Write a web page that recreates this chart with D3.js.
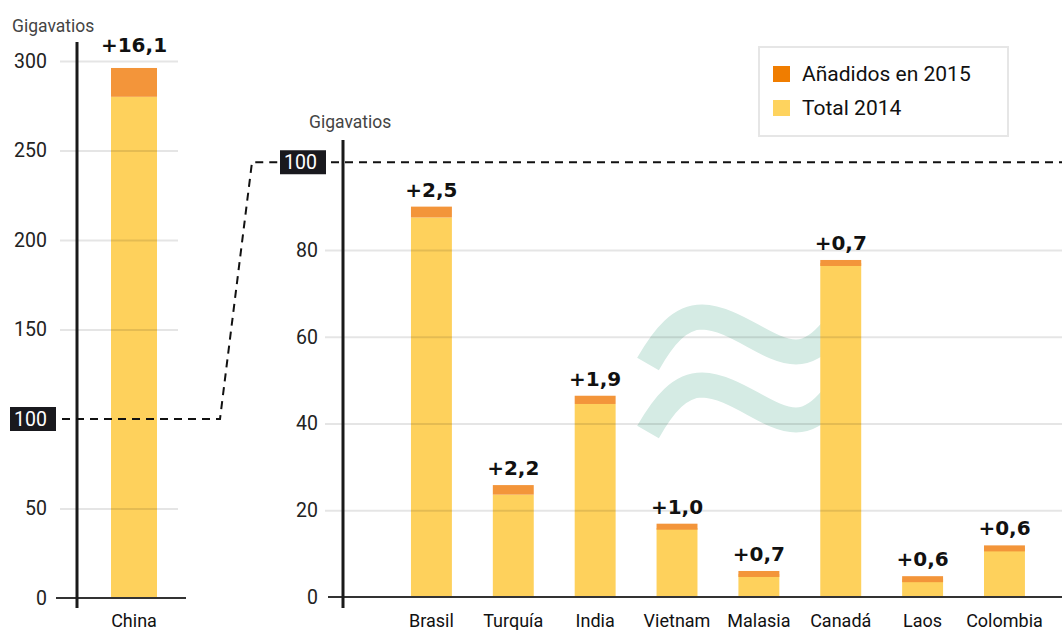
<!DOCTYPE html>
<html>
<head>
<meta charset="utf-8">
<script src="https://cdn.jsdelivr.net/npm/d3@7"></script>
<style>
  body { margin: 0; background: #fff; }
  svg { font-family: Roboto, "Noto Sans", sans-serif; display: block; }
</style>
</head>
<body>
<svg id="graph" width="1062" height="630"></svg>
<script>
(function() {
    // data
    var bigCats = ["China"];
    var bigBase = [280.0];
    var bigAdded = [16.1];

    var cats = ["Brasil", "Turquía", "India", "Vietnam", "Malasia", "Canadá", "Laos", "Colombia"];
    var base2014 = [87.5, 23.6, 44.5, 15.9, 5.3, 77.0, 4.2, 11.3];
    var added2015 = [2.5, 2.2, 1.9, 1.0, 0.7, 0.7, 0.6, 0.6];

    var bigTicks = [0, 50, 150, 200, 250, 300];
    var smallTicks = [0, 20, 40, 60, 80];
    var breakValue = 100;
    var legendLabels = ["Añadidos en 2015", "Total 2014"];

    var yellow = "#fed15c", orange = "#f3953a";
    var legendColors = ["#f07d00", "#fed35e"];
    var fmt = d => "+" + d3.format(".1f")(d).replace(".", ",");

    var svg = d3.select("#graph");

    // scales
    var yL = d3.scaleLinear().domain([0, 300]).range([598, 61]);
    var xL = d3.scaleBand().domain(bigCats).range([88, 180]).paddingInner(0.5).paddingOuter(0.25);
    var yR = d3.scaleLinear().domain([0, 80]).range([597, 250]);
    var xR = d3.scaleBand().domain(cats).range([390.5, 1045.4]).paddingInner(0.5).paddingOuter(0.25);

    // watermark (≈) behind the bars
    var wm = svg.append("g").attr("fill", "none").attr("stroke", "#d5ebe4").attr("stroke-width", 25);
    [0, 68].forEach(function(dy) {
        wm.append("path")
            .attr("transform", `translate(0,${dy})`)
            .attr("d", "M648,364 C664,336 680,317 702,317 C736,318 768,352 796,352 C810,352 822,342 832,330");
    });

    function drawBars(g, x, y, cs, base, add, labelGap) {
        var rows = cs.map((c, i) => ({ c: c, b: base[i], a: add[i] }));
        g.selectAll(".base").data(rows).join("rect")
            .attr("x", d => x(d.c)).attr("width", x.bandwidth())
            .attr("y", d => y(d.b)).attr("height", d => y(0) - y(d.b))
            .attr("fill", yellow);
        g.selectAll(".add").data(rows).join("rect")
            .attr("x", d => x(d.c)).attr("width", x.bandwidth())
            .attr("y", d => y(d.b + d.a))
            .attr("height", d => Math.max(y(d.b) - y(d.b + d.a), 6))
            .attr("fill", orange);
        g.selectAll(".lbl").data(rows).join("text")
            .attr("x", d => x(d.c) + x.bandwidth() / 2)
            .attr("y", d => y(d.b + d.a) - labelGap)
            .attr("text-anchor", "middle")
            .attr("font-family", "'DejaVu Sans', sans-serif")
            .attr("font-size", 20).attr("font-weight", "bold").attr("fill", "#111")
            .text(d => fmt(d.a));
    }

    var gL = svg.append("g");
    var gR = svg.append("g");
    drawBars(gL, xL, yL, bigCats, bigBase, bigAdded, 16);
    drawBars(gR, xR, yR, cats, base2014, added2015, 10);

    // gridlines over the bars
    svg.append("g")
        .attr("transform", "translate(60,0)")
        .call(d3.axisRight(yL).tickValues(bigTicks.filter(d => d > 0)).tickSize(118).tickFormat(""))
        .call(g => g.select(".domain").remove())
        .call(g => g.selectAll("line").attr("stroke", "rgba(0,0,0,0.1)").attr("stroke-width", 2));
    svg.append("g")
        .attr("transform", "translate(325,0)")
        .call(d3.axisRight(yR).tickValues(smallTicks.filter(d => d > 0)).tickSize(737).tickFormat(""))
        .call(g => g.select(".domain").remove())
        .call(g => g.selectAll("line").attr("stroke", "rgba(0,0,0,0.1)").attr("stroke-width", 2));

    // tick labels
    function tickLabels(x, y, vals) {
        svg.append("g")
            .attr("transform", `translate(${x},0)`)
            .call(d3.axisLeft(y).tickValues(vals).tickSize(0).tickPadding(0))
            .call(g => g.select(".domain").remove())
            .call(g => g.selectAll("text").attr("font-size", 19.5).attr("fill", "#222")
                .attr("font-family", "Roboto, sans-serif"));
    }
    tickLabels(47, yL, bigTicks);
    tickLabels(318, yR, smallTicks);

    // baselines and vertical axes
    svg.append("line").attr("x1", 56).attr("x2", 186).attr("y1", yL(0)).attr("y2", yL(0))
        .attr("stroke", "#333").attr("stroke-width", 2);
    svg.append("line").attr("x1", 328).attr("x2", 1062).attr("y1", yR(0)).attr("y2", yR(0))
        .attr("stroke", "#333").attr("stroke-width", 2);
    svg.append("line").attr("x1", 77).attr("x2", 77).attr("y1", 42).attr("y2", 608)
        .attr("stroke", "#1a1a1a").attr("stroke-width", 3);
    svg.append("line").attr("x1", 343).attr("x2", 343).attr("y1", 140).attr("y2", 608)
        .attr("stroke", "#1a1a1a").attr("stroke-width", 3);

    // dashed connector from 100 on the left scale to 100 on the right scale
    var yl100 = yL(breakValue), yr100 = yR(breakValue) - 1;
    svg.append("path")
        .attr("d", d3.line()([[62, yl100], [220, yl100], [252, yr100], [282, yr100]]))
        .attr("fill", "none").attr("stroke", "#111").attr("stroke-width", 2).attr("stroke-dasharray", "8,6");
    svg.append("line").attr("x1", 331).attr("x2", 1062).attr("y1", yr100).attr("y2", yr100)
        .attr("stroke", "#111").attr("stroke-width", 2).attr("stroke-dasharray", "8,6");

    // highlighted 100 labels
    [[10, yl100], [280, yr100]].forEach(function(p) {
        svg.append("rect").attr("x", p[0]).attr("y", p[1] - 12).attr("width", 46).attr("height", 24)
            .attr("fill", "#19191e");
        svg.append("text").attr("x", p[0] + 37).attr("y", p[1]).attr("dy", "0.35em")
            .attr("text-anchor", "end").attr("font-size", 19.5).attr("fill", "#fff").text(breakValue);
    });

    // category labels
    svg.append("g").selectAll("text").data(bigCats).join("text")
        .attr("x", d => xL(d) + xL.bandwidth() / 2).attr("y", 627)
        .attr("text-anchor", "middle").attr("font-size", 18).attr("fill", "#111").text(d => d);
    svg.append("g").selectAll("text").data(cats).join("text")
        .attr("x", d => xR(d) + xR.bandwidth() / 2).attr("y", 627)
        .attr("text-anchor", "middle").attr("font-size", 18).attr("fill", "#111").text(d => d);

    // unit titles
    svg.append("text").attr("x", 12).attr("y", 32).attr("font-size", 17.5).attr("fill", "#444").text("Gigavatios");
    svg.append("text").attr("x", 309).attr("y", 128).attr("font-size", 17.5).attr("fill", "#444").text("Gigavatios");

    // legend
    var lg = svg.append("g");
    lg.append("rect").attr("x", 759).attr("y", 47).attr("width", 249).attr("height", 89)
        .attr("fill", "#fff").attr("stroke", "#e6e6e6").attr("stroke-width", 2);
    legendLabels.forEach(function(t, i) {
        lg.append("rect").attr("x", 773).attr("y", 66 + i * 34).attr("width", 17).attr("height", 16)
            .attr("fill", legendColors[i]);
        lg.append("text").attr("x", 802).attr("y", 74 + i * 34).attr("dy", "0.35em")
            .attr("font-size", 21).attr("fill", "#111").text(t);
    });
})();
</script>
</body>
</html>
